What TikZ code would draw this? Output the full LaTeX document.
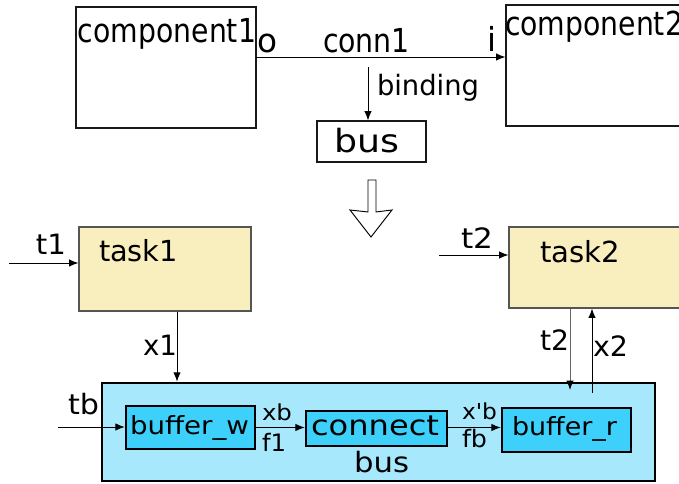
\documentclass[tikz,border=0pt]{standalone}
\usepackage{fontspec}
\setmainfont{DejaVu Sans}
\newfontfamily\dvplain{DejaVu Sans}
\usepackage{graphicx}
\usetikzlibrary{arrows.meta}
\definecolor{taskfill}{HTML}{F9EEBE}
\definecolor{busfill}{HTML}{A7E8FC}
\definecolor{buffill}{HTML}{3DD0FA}
\definecolor{tborder}{HTML}{555555}
\newcommand\tx[3]{\resizebox{\dimexpr #2pt*3/4\relax}{\height}{\fontsize{#1}{#1}\selectfont #3}}
\tikzset{
  px/.style={x=0.75pt,y=-0.75pt},
  boxsz/.style 2 args={minimum width=#1*0.75pt, minimum height=#2*0.75pt, inner sep=0pt},
  plainbox/.style={draw=black!90, line width=0.8pt},
  taskbox/.style={draw=tborder, fill=taskfill, line width=0.8pt},
  busbox/.style={draw=black, fill=busfill, line width=2pt},
  bufbox/.style={draw=black, fill=buffill, line width=1.8pt},
  lbl/.style={anchor=base west, inner sep=0pt, outer sep=0pt},
  arr/.style={-{Latex[length=7pt,width=5.5pt,color=black]}, line width=0.7pt},
}
\begin{document}
\begin{tikzpicture}[px]
\useasboundingbox (0,0) rectangle (679,484);
% boxes
\node[plainbox, boxsz={180}{121}] (comp1) at (166,67.5) {};
\node[plainbox, boxsz={180}{121}] (comp2) at (596,65.5) {};
\node[plainbox, boxsz={109}{41}] (bussmall) at (371.5,141.5) {};
\node[taskbox, boxsz={172}{84}] (task1) at (165,269) {};
\node[taskbox, boxsz={172}{81}] (task2) at (595,267.5) {};
\node[busbox, boxsz={553}{98}] (busbig) at (378.5,432) {};
\node[bufbox, boxsz={129}{43}] (bufw) at (190.5,427.5) {};
\node[bufbox, boxsz={141}{35}] (conn) at (376.5,428.5) {};
\node[bufbox, boxsz={129}{44}] (bufr) at (566.5,430) {};
% labels
\node[lbl] (lcomp1) at (78,43) {\tx{24.75}{178}{component1}};
\node[lbl] (lo) at (257,53) {\tx{24.75}{20}{o}};
\node[lbl] (lconn1) at (323,53) {\tx{24.75}{87}{conn1}};
\node[lbl] (li) at (487,52) {\tx{24.75}{9}{i}};
\node[lbl] (lcomp2) at (505,36) {\tx{24.75}{178}{component2}};
\node[lbl] (lbinding) at (377,96) {\tx{21}{102}{binding}};
\node[lbl] (lbus1) at (334,153) {\tx{24}{65}{bus}};
\node[lbl] (ltask1) at (99,262) {\tx{21.75}{79}{task1}};
\node[lbl] (ltask2) at (540,263) {\tx{21.75}{80}{task2}};
\node[lbl] (lt1) at (36,255) {\tx{21}{30}{t1}};
\node[lbl] (lt2a) at (461,249) {\tx{21}{32}{t2}};
\node[lbl] (lx1) at (143,356) {\tx{21}{34}{x1}};
\node[lbl] (lt2b) at (540,351) {\tx{21}{29}{t2}};
\node[lbl] (lx2) at (593,357) {\tx{21}{35}{x2}};
\node[lbl] (ltb) at (68,415) {\tx{21}{31}{tb}};
\node[lbl] (lbufw) at (130,435) {\tx{18.75}{119}{buffer\_w}};
\node[lbl] (lxb) at (262,421) {\tx{16.5}{30}{xb}};
\node[lbl] (lf1) at (262,452) {\tx{18}{24}{f1}};
\node[lbl] (lconnect) at (311,436) {\tx{21}{128}{connect}};
\node[lbl] (lxpb) at (462,420) {\tx{16.5}{35}{\dvplain x'b}};
\node[lbl] (lfb) at (462,448) {\tx{18}{25}{fb}};
\node[lbl] (lbufr) at (512,436) {\tx{18.75}{105}{buffer\_r}};
\node[lbl] (lbus2) at (354,473) {\tx{21}{55}{bus}};
% connector anchors
\coordinate (c1o) at (256,57);
\coordinate (bnd) at (368,67);
\coordinate (t1s) at (9,263);
\coordinate (t2s) at (439,255);
\coordinate (x1c) at (177,0);
\coordinate (t2c) at (570,390);
\coordinate (x2s) at (592,393);
\coordinate (tbs) at (58,427);
% connectors
\draw[arr] (c1o) -- (c1o -| comp2.west);
\draw[arr] (bnd) -- (bnd |- bussmall.north);
\draw[arr] (t1s) -- (t1s -| task1.west);
\draw[arr] (t2s) -- (t2s -| task2.west);
\draw[arr] (x1c |- task1.south) -- (x1c |- busbig.north);
\draw[arr, draw=black!60] (t2c |- task2.south) -- (t2c);
\draw[arr] (x2s) -- (x2s |- task2.south);
\draw[arr] (tbs) -- (tbs -| bufw.west);
\draw[arr] (bufw.east) -- (bufw.east -| conn.west);
\draw[arr] (conn.east |- bufw.east) -- (bufw.east -| bufr.west);
% hollow transformation arrow
\draw[line width=0.7pt, fill=white] (368,180) -- (368,212) -- (350,210) -- (371,237) -- (392,210) -- (376,212) -- (376,180) -- cycle;
\end{tikzpicture}
\end{document}
